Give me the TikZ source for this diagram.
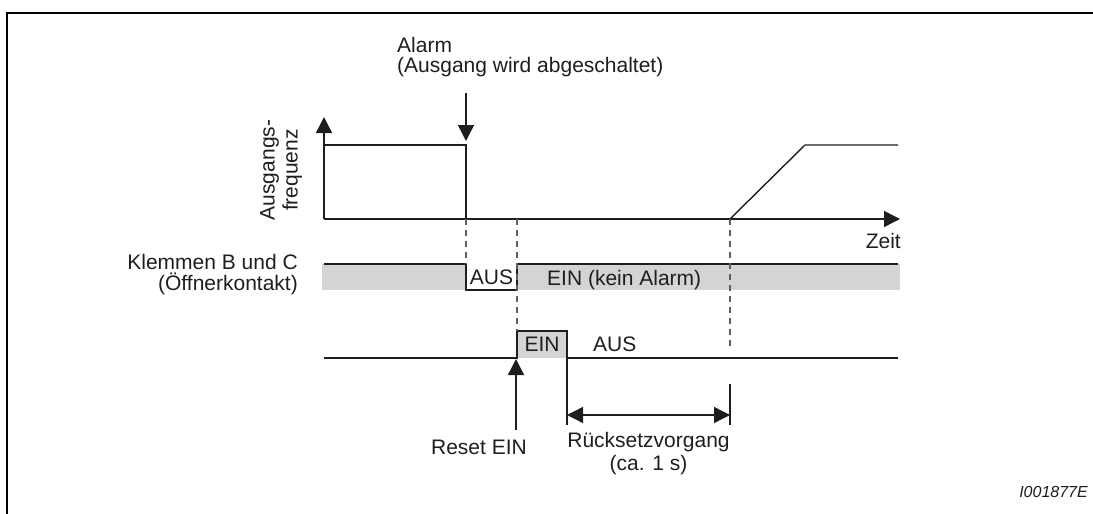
\documentclass[tikz,border=0pt]{standalone}
\usepackage{fontspec}
\setmainfont{Liberation Sans}
\usetikzlibrary{arrows.meta}
\definecolor{bandgray}{RGB}{211,212,214}
\definecolor{dashgray}{RGB}{95,95,95}
\definecolor{ink}{RGB}{30,30,30}
\begin{document}
\begin{tikzpicture}[x=1pt,y=-1pt,
  sig/.style={line width=1.4pt, ink},
  dline/.style={dashgray, line width=1.2pt, dash pattern=on 6pt off 5pt},
  tipend/.style={-{Triangle[length=16pt,width=16pt]}},
  tipboth/.style={{Triangle[length=16pt,width=16pt]}-{Triangle[length=16pt,width=16pt]}},
  lbl/.style={font=\fontsize{21}{21}\selectfont, inner sep=0pt, text=ink},
  frame/.style={line width=2.5pt, black}]
\useasboundingbox (0,0) rectangle (1093,514);
% frame
\draw[frame] (7,514) -- (7,13) -- (1093,13);
% coordinates
\coordinate (O) at (324,219);
\coordinate (Ytop) at (324,117);
\coordinate (Xend) at (900,219);
\coordinate (H0) at (324,145);
\coordinate (H1) at (466,145);
\coordinate (A0) at (466,219);
\coordinate (R0) at (730,219);
\coordinate (R1) at (805,145);
\coordinate (R2) at (898,145);
\coordinate (AlTop) at (466,93);
\coordinate (AlTip) at (466,141);
% frequency axes and curve
\draw[sig, tipend] (O) -- (Ytop);
\draw[sig, tipend] (O) -- (Xend);
\draw[sig] (H0) -- (H1) -- (A0);
\draw[sig] (R0) -- (R1) -- (R2);
\draw[sig, tipend] (AlTop) -- (AlTip);
% band B/C
\fill[bandgray] (322,264) rectangle (466,290);
\fill[bandgray] (517,264) rectangle (900,290);
\coordinate (B0) at (324,264);
\coordinate (B1) at (466,264);
\coordinate (B2) at (466,290);
\coordinate (B3) at (517,290);
\coordinate (B4) at (517,264);
\coordinate (B5) at (898,264);
\draw[sig] (B0) -- (B1) -- (B2) -- (B3) -- (B4) -- (B5);
% reset signal
\fill[bandgray] (517,331) rectangle (567,358);
\coordinate (S0) at (324,358);
\coordinate (S1) at (517,358);
\coordinate (S2) at (517,331);
\coordinate (S3) at (567,331);
\coordinate (S4) at (567,425);
\coordinate (S5) at (567,358);
\coordinate (S6) at (898,358);
\draw[sig] (S0) -- (S1) -- (S2) -- (S3) -- (S4);
\draw[sig] (S5) -- (S6);
% dashed guides
\coordinate (D1) at (466,264);
\coordinate (D2) at (517,331);
\coordinate (D3) at (730,350);
\coordinate (D0) at (517,219);
\draw[dline] (A0) -- (D1);
\draw[dline] (D0) -- (D2);
\draw[dline] (R0) -- (D3);
% dimension
\coordinate (T0) at (730,384);
\coordinate (T1) at (730,425);
\draw[sig, line width=1.1pt] (T0) -- (T1);
\coordinate (M0) at (567,415);
\coordinate (M1) at (730,415);
\draw[sig, tipboth] (M0) -- (M1);
% reset arrow
\coordinate (RsB) at (516,430);
\coordinate (RsT) at (516,359);
\draw[sig, tipend] (RsB) -- (RsT);
% labels
\node[lbl, anchor=base west] (alarm1) at (397,52) {Alarm};
\node[lbl, anchor=base west] (alarm2) at (397,72) {(Ausgang wird abgeschaltet)};
\node[lbl, rotate=90, align=center, font=\fontsize{21}{23}\selectfont] (freq) at (281,170) {Ausgangs-\\frequenz};
\node[lbl, anchor=base east] (zeit) at (901,248) {Zeit};
\node[lbl, anchor=base east] (kl1) at (298,269) {Klemmen B und C};
\node[lbl, anchor=base east] (kl2) at (298,290) {(Öffnerkontakt)};
\node[lbl, anchor=base] (aus1) at (491.5,284) {AUS};
\node[lbl, anchor=base west] (ein1) at (547,285) {EIN (kein Alarm)};
\node[lbl, anchor=base] (ein2) at (542,351) {EIN};
\node[lbl, anchor=base west] (aus2) at (593,351) {AUS};
\node[lbl, anchor=base east] (reset) at (527,454) {Reset EIN};
\node[lbl, anchor=base] (rs1) at (648.5,447) {Rücksetzvorgang};
\node[lbl, anchor=base] (rs2) at (648.5,470) {(ca. 1 s)};
\node[lbl, anchor=base east, font=\itshape\fontsize{16}{18}\selectfont] (code) at (1088,497) {I001877E};
\end{tikzpicture}
\end{document}
